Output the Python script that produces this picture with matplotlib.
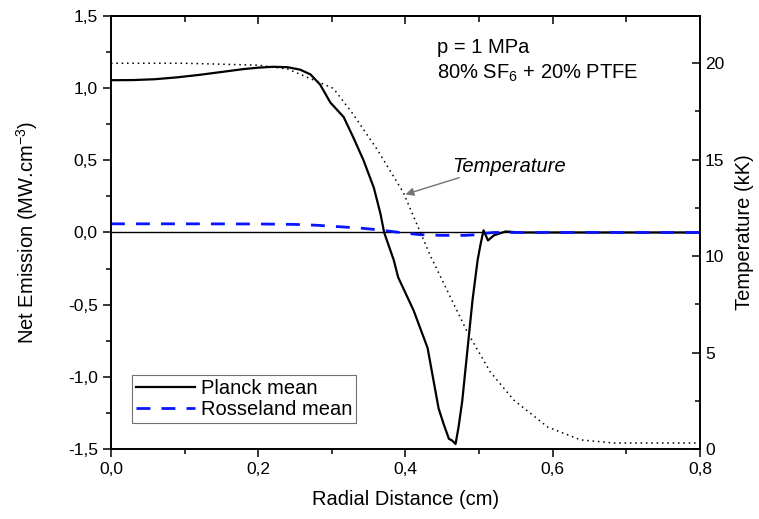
import matplotlib
matplotlib.use("Agg")
import matplotlib.pyplot as plt
from matplotlib.ticker import MultipleLocator, FuncFormatter, NullFormatter

plt.rcParams['font.family'] = ['Liberation Sans', 'DejaVu Sans']
plt.rcParams['mathtext.default'] = 'regular'

# radial distance (cm) and net emission (MW/cm3)
x_planck = [0.0, 0.03, 0.06, 0.09, 0.12, 0.15, 0.18, 0.20, 0.22, 0.24,
            0.257, 0.271, 0.284, 0.298, 0.316, 0.329, 0.343, 0.357, 0.366, 0.371,
            0.384, 0.390, 0.411, 0.430, 0.445, 0.452, 0.459, 0.463, 0.468, 0.472,
            0.477, 0.484, 0.491, 0.498, 0.502, 0.506, 0.512, 0.520, 0.536, 0.556,
            0.8]
planck = [1.055, 1.056, 1.062, 1.075, 1.092, 1.112, 1.132, 1.142, 1.148, 1.145,
          1.128, 1.095, 1.025, 0.90, 0.80, 0.66, 0.50, 0.31, 0.13, 0.0,
          -0.19, -0.31, -0.54, -0.80, -1.22, -1.33, -1.43, -1.44, -1.465, -1.35,
          -1.17, -0.82, -0.47, -0.19, -0.08, 0.015, -0.055, -0.02, 0.007, 0.0,
          0.0]

x_ross = [0.0, 0.1, 0.2, 0.25, 0.28, 0.31, 0.34, 0.36, 0.38, 0.40,
          0.42, 0.45, 0.48, 0.50, 0.51, 0.52, 0.8]
rosseland = [0.06, 0.06, 0.059, 0.056, 0.05, 0.04, 0.03, 0.02, 0.008, -0.005,
             -0.015, -0.02, -0.02, -0.015, -0.005, 0.0, 0.0]

# temperature profile (kK)
x_temp = [0.0, 0.1, 0.2, 0.24, 0.271, 0.302, 0.33, 0.362, 0.397, 0.434,
          0.484, 0.515, 0.547, 0.593, 0.638, 0.683, 0.8]
temp = [20.0, 20.0, 19.9, 19.7, 19.2, 18.7, 17.3, 15.5, 13.3, 10.0,
        6.06, 4.0, 2.54, 1.14, 0.47, 0.31, 0.31]

fig = plt.figure(figsize=(7.59, 5.19), dpi=100)
ax = fig.add_axes([0.1462, 0.1349, 0.7761, 0.8343])
ax2 = ax.twinx()

ax.axhline(0, color='black', lw=1.0, zorder=1)
ax.plot(x_planck, planck, color='black', lw=1.6, label='Planck mean', zorder=3)
ax.plot(x_ross, rosseland, color='#0a14ff', lw=2.0, dashes=(5, 4),
        label='Rosseland mean', zorder=4)
ax2.plot(x_temp, temp, color='black', lw=1.1, ls=(0, (1, 2.5)))

ax.set_xlim(0, 0.8)
ax.set_ylim(-1.5, 1.5)
ax2.set_ylim(0, 22.45)

comma = FuncFormatter(lambda v, p: ('%.1f' % v).replace('.', ','))
ax.xaxis.set_major_formatter(comma)
ax.yaxis.set_major_formatter(comma)
ax.xaxis.set_major_locator(MultipleLocator(0.2))
ax.xaxis.set_minor_locator(MultipleLocator(0.1))
ax.yaxis.set_major_locator(MultipleLocator(0.5))
ax.yaxis.set_minor_locator(MultipleLocator(0.25))
ax2.yaxis.set_major_locator(MultipleLocator(5))
ax2.yaxis.set_minor_locator(MultipleLocator(2.5))

ax.tick_params(axis='both', which='major', labelsize=12.5, length=6, width=1.1,
               direction='out')
ax.tick_params(axis='both', which='minor', length=3.5, width=1.1,
               direction='out')

# top axis: ticks pointing inward, no labels
top = ax.secondary_xaxis('top')
top.xaxis.set_major_locator(MultipleLocator(0.2))
top.xaxis.set_minor_locator(MultipleLocator(0.1))
top.xaxis.set_major_formatter(NullFormatter())
top.tick_params(axis='x', which='major', length=6, width=1.1, direction='in')
top.tick_params(axis='x', which='minor', length=4, width=1.1, direction='in')
top.spines['top'].set_linewidth(1.2)

ax2.tick_params(axis='y', which='major', labelsize=12.5, length=6, width=1.1,
                direction='in')
ax2.tick_params(axis='y', which='minor', length=3.5, width=1.1, direction='in')

for a in (ax, ax2):
    for s in a.spines.values():
        s.set_linewidth(1.2)

ax.set_xlabel('Radial Distance (cm)', fontsize=14.5, labelpad=9)
ax.set_ylabel('Net Emission (MW.cm$^{-3}$)', fontsize=14.5, labelpad=20)
ax2.set_ylabel('Temperature (kK)', fontsize=14.5, labelpad=8)

ax.text(0.553, 0.928, 'p = 1 MPa', transform=ax.transAxes, fontsize=14.5,
        va='center', ha='left')
ax.text(0.553, 0.868, '80% SF$_6$ + 20% PTFE', transform=ax.transAxes,
        fontsize=14.5, va='center', ha='left')

ax.text(0.463, 0.458, 'Temperature', fontsize=14.5, style='italic',
        va='center', ha='left')
ax.annotate('', xy=(0.400, 0.264), xytext=(0.473, 0.38),
            arrowprops=dict(arrowstyle='-|>', color='0.45', lw=1.0,
                            mutation_scale=12, shrinkA=0, shrinkB=0))

leg = ax.legend(loc='lower left', bbox_to_anchor=(0.036, 0.06), fontsize=14.5,
                frameon=True, fancybox=False, edgecolor='0.3',
                handlelength=2.9, handletextpad=0.3, borderpad=0.2,
                labelspacing=0.1, borderaxespad=0)
leg.get_frame().set_linewidth(0.8)

fig.savefig('out.png', dpi=100)
